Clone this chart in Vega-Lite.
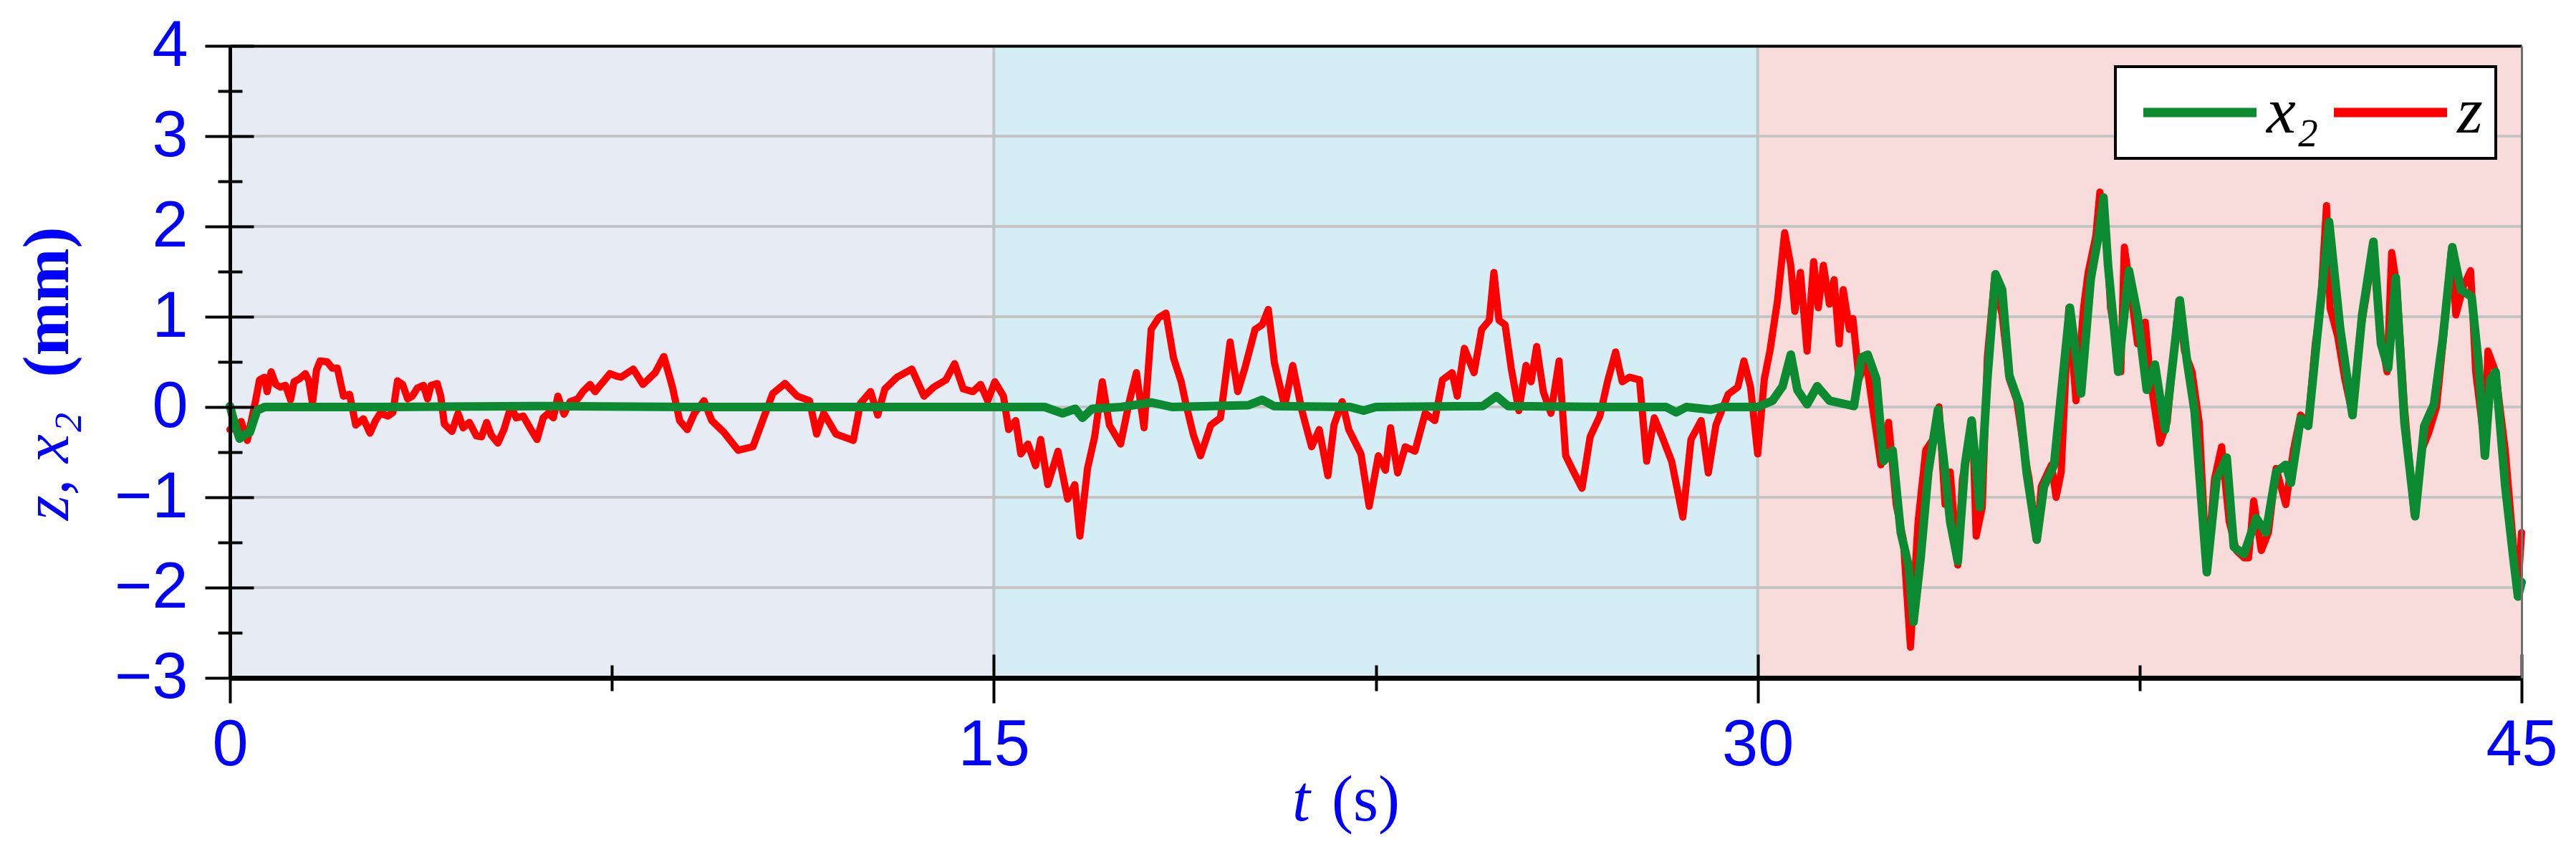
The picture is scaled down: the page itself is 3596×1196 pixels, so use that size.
{
  "$schema": "https://vega.github.io/schema/vega-lite/v6.json",
  "width": 3199,
  "height": 882,
  "autosize": {"type": "none"},
  "padding": {"left": 321, "top": 64, "right": 76, "bottom": 250},
  "background": "white",
  "config": {
    "view": {"stroke": null},
    "legend": {"strokeWidth": 4}
  },
  "datasets": {
    "regions": [
      {"t0": 0, "t1": 15, "y0": -3, "y1": 4, "region": "A"},
      {"t0": 15, "t1": 30, "y0": -3, "y1": 4, "region": "B"},
      {"t0": 30, "t1": 45, "y0": -3, "y1": 4, "region": "C"}
    ],
    "hgrid": [{"v": -2}, {"v": -1}, {"v": 0}, {"v": 1}, {"v": 2}, {"v": 3}],
    "vgrid": [{"t": 15}, {"t": 30}],
    "zdata": [
      {"t":0,"v":-0.25},{"t":0.10,"v":-0.23},{"t":0.22,"v":-0.16},{"t":0.34,"v":-0.37},{"t":0.44,"v":-0.10},{"t":0.51,"v":0.09},{"t":0.58,"v":0.30},{"t":0.68,"v":0.33},{"t":0.73,"v":0.17},{"t":0.81,"v":0.39},{"t":0.90,"v":0.25},{"t":0.99,"v":0.22},{"t":1.09,"v":0.24},{"t":1.19,"v":0.08},{"t":1.26,"v":0.28},{"t":1.36,"v":0.31},{"t":1.48,"v":0.37},{"t":1.55,"v":0.29},{"t":1.62,"v":0.04},{"t":1.70,"v":0.41},{"t":1.77,"v":0.51},{"t":1.91,"v":0.50},{"t":2.01,"v":0.43},{"t":2.11,"v":0.43},{"t":2.23,"v":0.12},{"t":2.35,"v":0.14},{"t":2.47,"v":-0.20},{"t":2.62,"v":-0.13},{"t":2.75,"v":-0.29},{"t":2.86,"v":-0.15},{"t":2.95,"v":-0.07},{"t":3.10,"v":-0.10},{"t":3.20,"v":-0.06},{"t":3.29,"v":0.29},{"t":3.39,"v":0.25},{"t":3.49,"v":0.09},{"t":3.58,"v":0.12},{"t":3.68,"v":0.21},{"t":3.80,"v":0.24},{"t":3.88,"v":0.09},{"t":3.95,"v":0.24},{"t":4.07,"v":0.26},{"t":4.14,"v":0.12},{"t":4.21,"v":-0.19},{"t":4.36,"v":-0.27},{"t":4.48,"v":-0.07},{"t":4.58,"v":-0.23},{"t":4.70,"v":-0.17},{"t":4.84,"v":-0.32},{"t":4.94,"v":-0.33},{"t":5.04,"v":-0.17},{"t":5.13,"v":-0.31},{"t":5.26,"v":-0.40},{"t":5.38,"v":-0.25},{"t":5.52,"v":0.01},{"t":5.62,"v":-0.12},{"t":5.76,"v":-0.10},{"t":5.89,"v":-0.23},{"t":6.03,"v":-0.36},{"t":6.15,"v":-0.12},{"t":6.25,"v":-0.07},{"t":6.35,"v":-0.12},{"t":6.44,"v":0.12},{"t":6.56,"v":-0.08},{"t":6.68,"v":0.06},{"t":6.83,"v":0.09},{"t":6.93,"v":0.17},{"t":7.07,"v":0.25},{"t":7.17,"v":0.17},{"t":7.27,"v":0.24},{"t":7.36,"v":0.30},{"t":7.46,"v":0.37},{"t":7.60,"v":0.34},{"t":7.68,"v":0.33},{"t":7.92,"v":0.42},{"t":8.11,"v":0.25},{"t":8.35,"v":0.38},{"t":8.52,"v":0.56},{"t":8.69,"v":0.22},{"t":8.83,"v":-0.15},{"t":8.98,"v":-0.25},{"t":9.12,"v":-0.07},{"t":9.31,"v":0.07},{"t":9.46,"v":-0.15},{"t":9.70,"v":-0.28},{"t":9.98,"v":-0.48},{"t":10.27,"v":-0.44},{"t":10.46,"v":-0.15},{"t":10.66,"v":0.15},{"t":10.90,"v":0.26},{"t":11.14,"v":0.12},{"t":11.38,"v":0.07},{"t":11.52,"v":-0.30},{"t":11.66,"v":-0.07},{"t":11.90,"v":-0.30},{"t":12.24,"v":-0.37},{"t":12.38,"v":0.04},{"t":12.58,"v":0.17},{"t":12.72,"v":-0.09},{"t":12.86,"v":0.20},{"t":13.10,"v":0.33},{"t":13.39,"v":0.42},{"t":13.63,"v":0.12},{"t":13.82,"v":0.22},{"t":14.06,"v":0.30},{"t":14.23,"v":0.48},{"t":14.40,"v":0.20},{"t":14.59,"v":0.17},{"t":14.74,"v":0.25},{"t":14.88,"v":0.07},
      {"t":15.02,"v":0.28},{"t":15.19,"v":0.12},{"t":15.29,"v":-0.25},{"t":15.43,"v":-0.15},{"t":15.53,"v":-0.52},{"t":15.67,"v":-0.41},{"t":15.82,"v":-0.65},{"t":15.92,"v":-0.36},{"t":16.06,"v":-0.86},{"t":16.26,"v":-0.49},{"t":16.45,"v":-1.02},{"t":16.59,"v":-0.86},{"t":16.69,"v":-1.43},{"t":16.84,"v":-0.68},{"t":16.98,"v":-0.33},{"t":17.13,"v":0.28},{"t":17.27,"v":-0.20},{"t":17.49,"v":-0.41},{"t":17.66,"v":0.06},{"t":17.80,"v":0.38},{"t":17.95,"v":-0.23},{"t":18.09,"v":0.86},{"t":18.24,"v":0.99},{"t":18.38,"v":1.04},{"t":18.53,"v":0.54},{"t":18.68,"v":0.28},{"t":18.77,"v":0.04},{"t":18.92,"v":-0.31},{"t":19.06,"v":-0.54},{"t":19.26,"v":-0.20},{"t":19.45,"v":-0.12},{"t":19.64,"v":0.72},{"t":19.79,"v":0.17},{"t":19.93,"v":0.43},{"t":20.13,"v":0.86},{"t":20.27,"v":0.91},{"t":20.39,"v":1.08},{"t":20.51,"v":0.49},{"t":20.71,"v":0.01},{"t":20.87,"v":0.46},{"t":21.05,"v":-0.04},{"t":21.24,"v":-0.44},{"t":21.39,"v":-0.25},{"t":21.56,"v":-0.76},{"t":21.68,"v":-0.20},{"t":21.84,"v":0.06},{"t":21.97,"v":-0.25},{"t":22.21,"v":-0.52},{"t":22.37,"v":-1.10},{"t":22.55,"v":-0.54},{"t":22.69,"v":-0.70},{"t":22.79,"v":-0.23},{"t":22.93,"v":-0.73},{"t":23.08,"v":-0.44},{"t":23.27,"v":-0.49},{"t":23.47,"v":-0.07},{"t":23.66,"v":-0.15},{"t":23.81,"v":0.30},{"t":24.00,"v":0.38},{"t":24.10,"v":0.12},{"t":24.24,"v":0.65},{"t":24.43,"v":0.38},{"t":24.58,"v":0.86},{"t":24.73,"v":0.96},{"t":24.82,"v":1.49},{"t":24.92,"v":0.96},{"t":25.04,"v":0.91},{"t":25.16,"v":0.43},{"t":25.31,"v":-0.04},{"t":25.45,"v":0.46},{"t":25.55,"v":0.28},{"t":25.66,"v":0.67},{"t":25.79,"v":0.17},{"t":25.94,"v":-0.07},{"t":26.10,"v":0.51},{"t":26.23,"v":-0.54},{"t":26.37,"v":-0.70},{"t":26.55,"v":-0.90},{"t":26.71,"v":-0.33},{"t":26.90,"v":-0.10},{"t":27.05,"v":0.28},{"t":27.21,"v":0.61},{"t":27.34,"v":0.28},{"t":27.48,"v":0.33},{"t":27.68,"v":0.30},{"t":27.82,"v":-0.60},{"t":27.97,"v":-0.12},{"t":28.11,"v":-0.31},{"t":28.31,"v":-0.60},{"t":28.53,"v":-1.22},{"t":28.69,"v":-0.36},{"t":28.89,"v":-0.15},{"t":29.03,"v":-0.73},{"t":29.18,"v":-0.20},{"t":29.42,"v":0.14},{"t":29.61,"v":0.22},{"t":29.73,"v":0.51},{"t":29.86,"v":0.22},{"t":30.00,"v":-0.52},
      {"t":30.13,"v":0.31},{"t":30.24,"v":0.62},{"t":30.39,"v":1.18},{"t":30.53,"v":1.93},{"t":30.65,"v":1.57},{"t":30.73,"v":1.06},{"t":30.84,"v":1.49},{"t":30.97,"v":0.62},{"t":31.10,"v":1.61},{"t":31.19,"v":1.10},{"t":31.29,"v":1.57},{"t":31.41,"v":1.14},{"t":31.50,"v":1.41},{"t":31.60,"v":0.70},{"t":31.68,"v":1.30},{"t":31.80,"v":0.86},{"t":31.87,"v":0.98},{"t":31.99,"v":0.31},{"t":32.13,"v":0.51},{"t":32.28,"v":-0.09},{"t":32.42,"v":-0.64},{"t":32.57,"v":-0.17},{"t":32.72,"v":-1.08},{"t":32.86,"v":-1.47},{"t":33.00,"v":-2.66},{"t":33.15,"v":-1.27},{"t":33.30,"v":-0.48},{"t":33.44,"v":-0.36},{"t":33.56,"v":0.00},{"t":33.68,"v":-1.08},{"t":33.78,"v":-0.72},{"t":33.93,"v":-1.75},{"t":34.02,"v":-0.80},{"t":34.22,"v":-0.17},{"t":34.29,"v":-1.43},{"t":34.41,"v":-1.11},{"t":34.51,"v":0.55},{"t":34.65,"v":1.42},{"t":34.80,"v":1.02},{"t":34.94,"v":0.31},{"t":35.09,"v":0.07},{"t":35.23,"v":-0.48},{"t":35.33,"v":-0.80},{"t":35.48,"v":-1.47},{"t":35.57,"v":-0.88},{"t":35.77,"v":-0.64},{"t":35.86,"v":-1.00},{"t":35.96,"v":-0.72},{"t":36.11,"v":1.10},{"t":36.25,"v":0.07},{"t":36.40,"v":1.10},{"t":36.49,"v":1.49},{"t":36.64,"v":1.89},{"t":36.72,"v":2.38},{"t":36.84,"v":1.97},{"t":36.93,"v":1.10},{"t":37.13,"v":0.39},{"t":37.20,"v":1.77},{"t":37.32,"v":1.30},{"t":37.46,"v":0.70},{"t":37.61,"v":0.94},{"t":37.71,"v":0.31},{"t":37.90,"v":-0.40},{"t":38.04,"v":-0.17},{"t":38.27,"v":1.18},{"t":38.38,"v":0.62},{"t":38.53,"v":0.39},{"t":38.67,"v":-0.17},{"t":38.82,"v":-1.83},{"t":38.97,"v":-0.80},{"t":39.11,"v":-0.44},{"t":39.26,"v":-1.27},{"t":39.40,"v":-1.59},{"t":39.55,"v":-1.67},{"t":39.64,"v":-1.67},{"t":39.74,"v":-1.04},{"t":39.89,"v":-1.59},{"t":40.03,"v":-1.39},{"t":40.18,"v":-0.68},{"t":40.37,"v":-1.08},{"t":40.52,"v":-0.48},{"t":40.66,"v":-0.09},{"t":40.81,"v":-0.17},{"t":40.95,"v":0.70},{"t":41.05,"v":1.10},{"t":41.17,"v":2.23},{"t":41.24,"v":1.10},{"t":41.39,"v":0.78},{"t":41.53,"v":0.31},{"t":41.68,"v":-0.09},{"t":41.82,"v":0.78},{"t":41.97,"v":1.30},{"t":42.09,"v":1.81},{"t":42.21,"v":0.86},{"t":42.36,"v":0.39},{"t":42.45,"v":1.71},{"t":42.55,"v":1.34},{"t":42.70,"v":0.00},{"t":42.89,"v":-1.19},{"t":43.04,"v":-0.48},{"t":43.18,"v":-0.28},{"t":43.33,"v":0.00},{"t":43.47,"v":0.78},{"t":43.62,"v":1.73},{"t":43.71,"v":1.02},{"t":43.86,"v":1.34},{"t":44.00,"v":1.51},{"t":44.10,"v":0.39},{"t":44.27,"v":-0.40},{"t":44.34,"v":0.62},{"t":44.49,"v":0.39},{"t":44.68,"v":-0.48},{"t":44.83,"v":-1.47},{"t":44.92,"v":-2.10},{"t":45.00,"v":-1.39}
    ],
    "x2data": [
      {"t":0,"v":0.01},{"t":0.10,"v":-0.2},{"t":0.19,"v":-0.35},{"t":0.30,"v":-0.30},{"t":0.39,"v":-0.28},{"t":0.53,"v":-0.04},{"t":0.68,"v":0.0},{"t":3,"v":0.0},{"t":6,"v":0.01},{"t":9,"v":0.0},{"t":12,"v":0.0},{"t":15,"v":0.0},{"t":16.0,"v":0.0},{"t":16.35,"v":-0.07},{"t":16.6,"v":-0.02},{"t":16.74,"v":-0.12},{"t":16.93,"v":-0.02},{"t":17.5,"v":0.0},{"t":18.09,"v":0.05},{"t":18.5,"v":0.0},{"t":20.0,"v":0.02},{"t":20.27,"v":0.08},{"t":20.5,"v":0.01},{"t":22.0,"v":0.0},{"t":22.26,"v":-0.04},{"t":22.5,"v":0.0},{"t":24.6,"v":0.01},{"t":24.87,"v":0.12},{"t":25.1,"v":0.01},{"t":27,"v":0.0},{"t":28.2,"v":0.0},{"t":28.40,"v":-0.06},{"t":28.6,"v":0.0},{"t":29.08,"v":-0.03},{"t":29.3,"v":0.0},{"t":30.0,"v":0.0},
      {"t":30.29,"v":0.07},{"t":30.49,"v":0.23},{"t":30.65,"v":0.58},{"t":30.78,"v":0.19},{"t":30.97,"v":0.03},{"t":31.17,"v":0.23},{"t":31.41,"v":0.07},{"t":31.89,"v":0.01},{"t":32.04,"v":0.55},{"t":32.16,"v":0.58},{"t":32.33,"v":0.31},{"t":32.47,"v":-0.60},{"t":32.65,"v":-0.48},{"t":32.81,"v":-1.39},{"t":32.96,"v":-1.75},{"t":33.06,"v":-2.38},{"t":33.20,"v":-1.67},{"t":33.35,"v":-0.72},{"t":33.54,"v":-0.03},{"t":33.68,"v":-0.72},{"t":33.78,"v":-1.27},{"t":33.93,"v":-1.71},{"t":34.07,"v":-0.64},{"t":34.20,"v":-0.15},{"t":34.36,"v":-1.11},{"t":34.51,"v":0.31},{"t":34.67,"v":1.47},{"t":34.80,"v":1.30},{"t":34.94,"v":0.35},{"t":35.14,"v":0.03},{"t":35.28,"v":-0.72},{"t":35.48,"v":-1.47},{"t":35.62,"v":-0.88},{"t":35.82,"v":-0.64},{"t":35.96,"v":0.15},{"t":36.13,"v":1.10},{"t":36.35,"v":0.15},{"t":36.54,"v":1.42},{"t":36.69,"v":1.89},{"t":36.79,"v":2.32},{"t":36.88,"v":1.57},{"t":37.08,"v":0.39},{"t":37.29,"v":1.51},{"t":37.46,"v":1.02},{"t":37.64,"v":0.19},{"t":37.80,"v":0.47},{"t":38.00,"v":-0.25},{"t":38.29,"v":1.18},{"t":38.43,"v":0.51},{"t":38.58,"v":-0.05},{"t":38.82,"v":-1.83},{"t":39.01,"v":-0.80},{"t":39.21,"v":-0.56},{"t":39.35,"v":-1.55},{"t":39.55,"v":-1.63},{"t":39.79,"v":-1.23},{"t":39.98,"v":-1.39},{"t":40.18,"v":-0.72},{"t":40.37,"v":-0.64},{"t":40.47,"v":-0.84},{"t":40.66,"v":-0.13},{"t":40.81,"v":-0.21},{"t":41.00,"v":0.86},{"t":41.22,"v":2.05},{"t":41.44,"v":0.86},{"t":41.68,"v":-0.09},{"t":41.87,"v":1.02},{"t":42.09,"v":1.83},{"t":42.24,"v":0.70},{"t":42.38,"v":0.43},{"t":42.53,"v":1.43},{"t":42.70,"v":-0.17},{"t":42.91,"v":-1.21},{"t":43.09,"v":-0.21},{"t":43.28,"v":0.03},{"t":43.45,"v":0.74},{"t":43.64,"v":1.77},{"t":43.81,"v":1.30},{"t":44.02,"v":1.22},{"t":44.15,"v":0.51},{"t":44.28,"v":-0.54},{"t":44.39,"v":0.31},{"t":44.49,"v":0.39},{"t":44.68,"v":-0.88},{"t":44.83,"v":-1.63},{"t":44.93,"v":-2.10},{"t":45.00,"v":-1.94}
    ]
  },
  "resolve": {
    "scale": {"x": "shared", "y": "shared"},
    "axis": {"x": "independent", "y": "independent"}
  },
  "layer": [
    {
      "data": {"name": "regions"},
      "mark": {"type": "rect"},
      "encoding": {
        "x": {"field": "t0", "type": "quantitative",
          "scale": {"domain": [0, 45], "nice": false, "zero": false},
          "axis": {"orient": "bottom", "offset": -33, "tickSize": 68, "tickWidth": 4, "tickColor": "black",
            "values": [0, 15, 30, 45], "domain": false, "grid": false, "zindex": 1,
            "labelFont": "Liberation Sans", "labelFontSize": 90, "labelColor": "#0000FF",
            "labelPadding": 15, "labelFlush": false, "labelOverlap": false, "labelBound": false, "title": null}},
        "x2": {"field": "t1"},
        "y": {"field": "y0", "type": "quantitative",
          "scale": {"domain": [-3, 4], "nice": false, "zero": false},
          "axis": {"orient": "left", "offset": -33, "tickSize": 68, "tickWidth": 4, "tickColor": "black",
            "values": [-3, -2, -1, 0, 1, 2, 3, 4], "domain": false, "grid": false, "zindex": 1,
            "labelFont": "Liberation Sans", "labelFontSize": 90, "labelColor": "#0000FF",
            "labelPadding": 24, "labelOverlap": false, "labelBound": false, "labelFlush": false, "title": null}},
        "y2": {"field": "y1"},
        "fill": {"field": "region", "type": "nominal", "legend": null,
          "scale": {"domain": ["A", "B", "C"], "range": ["#E7ECF4", "#D5EDF4", "#F8DCDB"]}}
      }
    },
    {
      "data": {"name": "hgrid"},
      "mark": {"type": "rule", "color": "#C4C4C4", "strokeWidth": 4},
      "encoding": {
        "y": {"field": "v", "type": "quantitative",
          "axis": {"orient": "left", "offset": -17, "tickSize": 34, "tickWidth": 4, "tickColor": "black",
            "values": [-2.5, -1.5, -0.5, 0.5, 1.5, 2.5, 3.5], "domain": false, "grid": false, "labels": false, "zindex": 1,
            "title": "z, x₂", "titleFont": "Liberation Serif", "titleFontStyle": "italic", "titleFontWeight": "normal",
            "titleFontSize": 90, "titleColor": "#0000FF", "titleAngle": 270, "titleAlign": "center",
            "titleBaseline": "alphabetic", "titleX": -244, "titleY": 586}}
      }
    },
    {
      "data": {"name": "vgrid"},
      "mark": {"type": "rule", "color": "#BDC6CB", "strokeWidth": 4},
      "encoding": {
        "x": {"field": "t", "type": "quantitative",
          "axis": {"orient": "bottom", "offset": -18, "tickSize": 36, "tickWidth": 4, "tickColor": "black",
            "values": [7.5, 22.5, 37.5], "domain": false, "grid": false, "labels": false, "zindex": 1,
            "title": "(s)", "titleFont": "Liberation Serif", "titleFontStyle": "normal", "titleFontWeight": "normal",
            "titleFontSize": 90, "titleColor": "#0000FF", "titleAngle": 0, "titleAlign": "center",
            "titleBaseline": "alphabetic", "titleX": 1585, "titleY": 216}}
      }
    },
    {
      "data": {"name": "zdata"},
      "transform": [{"calculate": "'z'", "as": "series"}],
      "mark": {"type": "line", "strokeWidth": 10, "strokeJoin": "round", "strokeCap": "round"},
      "encoding": {
        "x": {"field": "t", "type": "quantitative",
          "axis": {"orient": "bottom", "ticks": false, "labels": false, "domain": true, "domainColor": "black",
            "domainWidth": 7, "grid": false, "zindex": 1,
            "title": "t", "titleFont": "Liberation Serif", "titleFontStyle": "italic", "titleFontWeight": "normal",
            "titleFontSize": 90, "titleColor": "#0000FF", "titleAngle": 0, "titleAlign": "center",
            "titleBaseline": "alphabetic", "titleX": 1495, "titleY": 198}},
        "y": {"field": "v", "type": "quantitative",
          "axis": {"orient": "left", "ticks": false, "labels": false, "domain": true, "domainColor": "black",
            "domainWidth": 5, "grid": false, "zindex": 1,
            "title": "(mm)", "titleFont": "Liberation Serif", "titleFontStyle": "normal", "titleFontWeight": "bold",
            "titleFontSize": 90, "titleColor": "#0000FF", "titleAngle": 270, "titleAlign": "center",
            "titleBaseline": "alphabetic", "titleX": -227, "titleY": 357}},
        "color": {"field": "series", "type": "nominal",
          "scale": {"domain": ["x₂", "z"], "range": ["#0B8A32", "#FF0000"]},
          "legend": {"orient": "none", "legendX": 2632, "legendY": 29, "direction": "horizontal",
            "title": null, "symbolType": "M-2,0H2", "symbolSize": 6241, "symbolStrokeWidth": 13,
            "symbolOffset": 54, "labelOffset": 47, "columnPadding": -6, "padding": 18,
            "fillColor": "white", "strokeColor": "black",
            "labelFont": "Liberation Serif", "labelFontStyle": "italic", "labelFontSize": 92, "labelColor": "black"}}
      }
    },
    {
      "data": {"name": "x2data"},
      "transform": [{"calculate": "'x₂'", "as": "series"}],
      "mark": {"type": "line", "strokeWidth": 12, "strokeJoin": "round", "strokeCap": "round"},
      "encoding": {
        "x": {"field": "t", "type": "quantitative",
          "axis": {"orient": "top", "ticks": false, "labels": false, "domain": true, "domainColor": "black",
            "domainWidth": 4, "grid": false, "zindex": 1, "title": null}},
        "y": {"field": "v", "type": "quantitative",
          "axis": {"orient": "right", "ticks": false, "labels": false, "domain": true, "domainColor": "#707070",
            "domainWidth": 3, "grid": false, "zindex": 1, "title": null}},
        "color": {"field": "series", "type": "nominal"}
      }
    }
  ]
}
